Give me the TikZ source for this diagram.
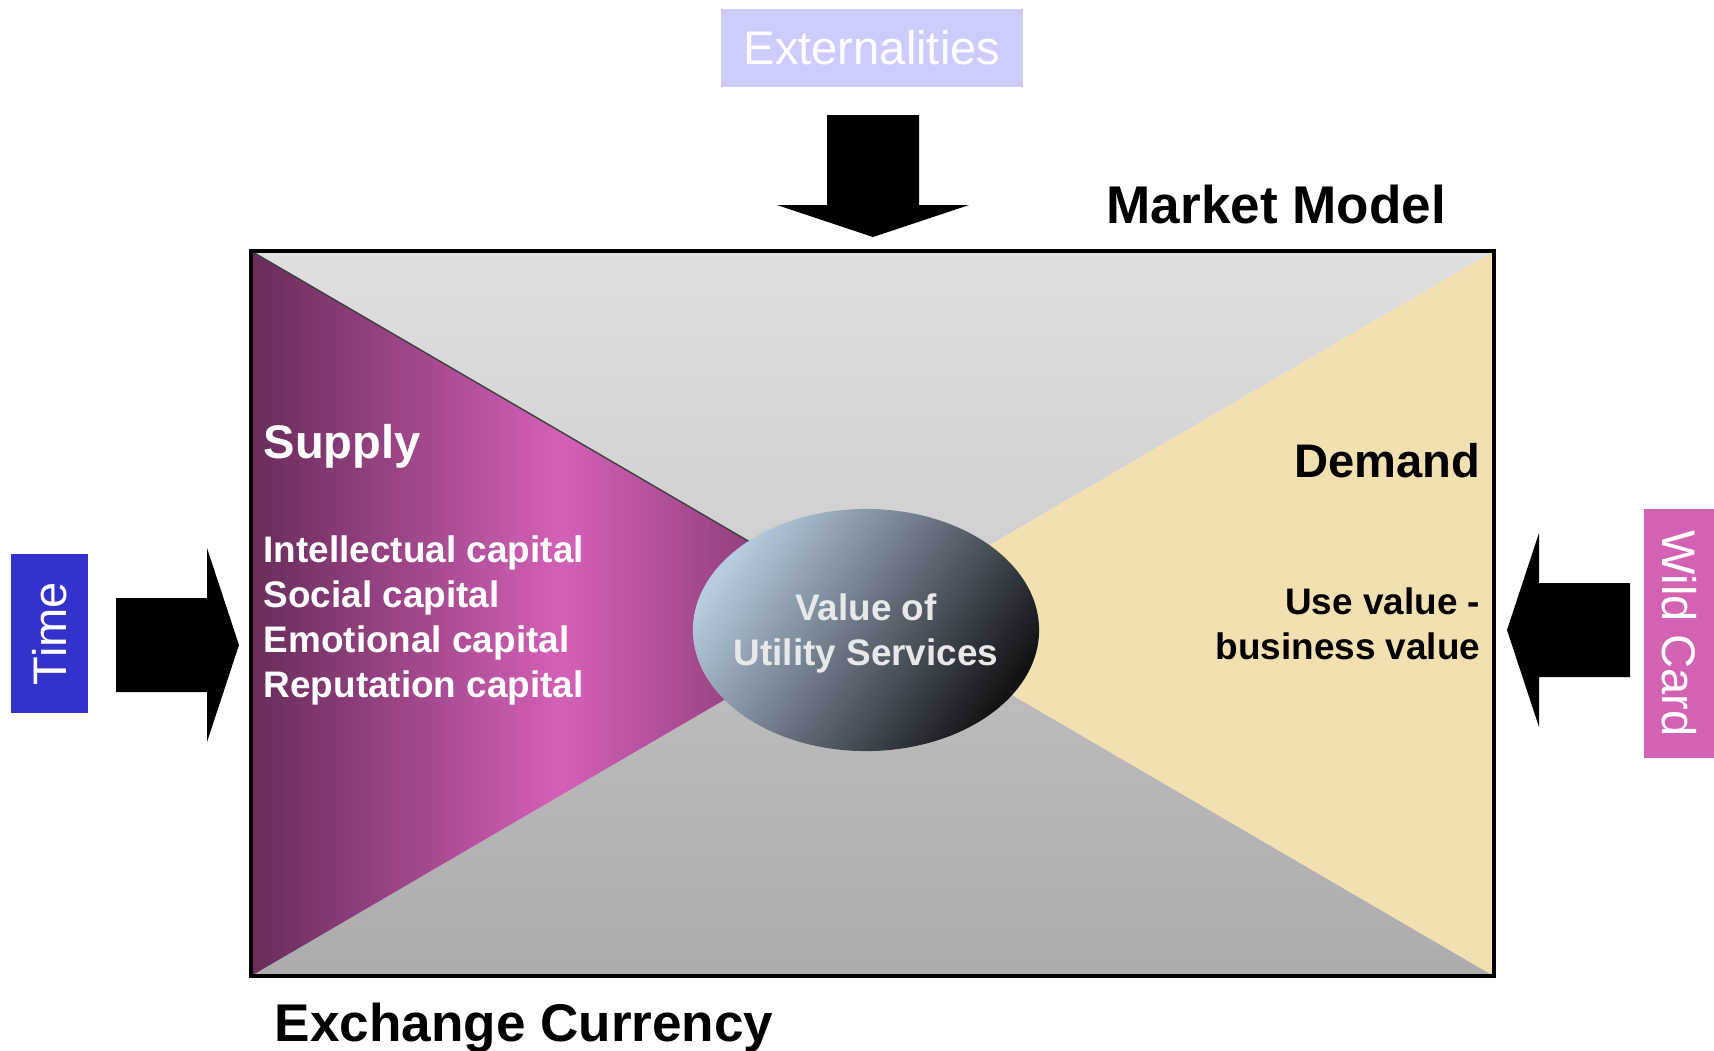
\documentclass[tikz,border=0pt]{standalone}
\usepackage{fontspec}
\setmainfont{Liberation Sans}
\usetikzlibrary{calc,positioning,shapes.geometric}
\definecolor{SupplyClr}{RGB}{104,44,90}
\definecolor{SupplyGlowClr}{RGB}{212,96,184}
\definecolor{DemandClr}{RGB}{242,224,177}
\definecolor{UpperClr}{RGB}{223,223,223}
\definecolor{UpperMidClr}{RGB}{205,205,205}
\definecolor{LowerMidClr}{RGB}{192,192,192}
\definecolor{LowerClr}{RGB}{172,172,172}
\definecolor{ExtClr}{RGB}{204,204,255}
\definecolor{TimeClr}{RGB}{51,51,204}
\definecolor{WildClr}{RGB}{212,98,180}
\definecolor{OrbLightClr}{RGB}{184,204,224}
\definecolor{OrbDarkClr}{RGB}{16,18,22}
\definecolor{OrbTextClr}{RGB}{232,232,232}

\begin{document}
\begin{tikzpicture}[x=0.01cm,y=-0.01cm,
  tag/.style={text=white,inner sep=0pt,font=\fontsize{13.4}{16}\selectfont},
  heading/.style={inner sep=0pt,font=\fontsize{15.1}{18}\selectfont\bfseries},
  side/.style={inner sep=0pt,font=\fontsize{13.4}{16}\selectfont\bfseries},
  item/.style={inner sep=0pt,font=\fontsize{10.5}{12.8}\selectfont\bfseries},
  block/.style={fill=black}]

\useasboundingbox (0,0) rectangle (1714,1050);

\coordinate (nw) at (251,251);
\coordinate (se) at (1494,976);
\coordinate (ne) at (se |- nw);
\coordinate (sw) at (nw |- se);
\coordinate (mid) at ($(nw)!0.5!(se)$);

\shade[top color=UpperClr,bottom color=UpperMidClr] (nw) -- (ne) -- (mid) -- cycle;
\shade[top color=LowerMidClr,bottom color=LowerClr] (sw) -- (se) -- (mid) -- cycle;
\shade[left color=SupplyClr,right color=SupplyClr,middle color=SupplyGlowClr] (nw) -- (mid) -- (sw) -- cycle;
\fill[DemandClr] (ne) -- (mid) -- (se) -- cycle;
\draw[line width=0.4pt,black!75] (nw) -- (mid);
\draw[line width=1.1pt] (nw) rectangle (se);

\node[ellipse,inner sep=0pt,minimum width=3.46cm,minimum height=2.42cm,top color=OrbLightClr,bottom color=OrbDarkClr,shading angle=55] (orb) at (866,630) {};
\node[item,text=OrbTextClr,align=center] (orb text) at ($(orb)+(0,3)$) {Value of\\Utility Services};

\node[side,text=white,anchor=base west] (supply) at (263,458) {Supply};
\node[item,text=white,anchor=north west,align=left] (assets) at (263,535) {Intellectual capital\\Social capital\\Emotional capital\\Reputation capital};
\node[side,anchor=base east] (demand) at (1481,477) {Demand};
\node[item,anchor=north east,align=right] (worth) at (1481,587) {Use value -\\business value};
\node[heading,anchor=base west] (market) at (1106,223) {Market Model};
\node[heading,anchor=base west] (currency) at (274,1041) {Exchange Currency};

\node[tag,fill=ExtClr,minimum width=3.02cm,minimum height=0.77cm] (ext) at (872,48) {Externalities};
\node[tag,fill=TimeClr,rotate=90,minimum width=1.59cm,minimum height=0.77cm] (time) at (49.5,633.5) {Time};
\node[tag,fill=WildClr,rotate=-90,minimum width=2.49cm,minimum height=0.70cm] (wild) at (1679,633.5) {Wild Card};

\coordinate (ext tip) at (873,237);
\coordinate (time tip) at (239,645);
\coordinate (wild tip) at (1507,630);

\fill[block] (ext tip) -- ++(96,-32) -- ++(-50,0) -- ++(0,-90) -- ++(-92,0) -- ++(0,90) -- ++(-50,0) -- cycle;
\fill[block] (time tip) -- ++(-32,-97) -- ++(0,50) -- ++(-91,0) -- ++(0,94) -- ++(91,0) -- ++(0,50) -- cycle;
\fill[block] (wild tip) -- ++(32,-97) -- ++(0,50) -- ++(91,0) -- ++(0,94) -- ++(-91,0) -- ++(0,50) -- cycle;

\end{tikzpicture}
\end{document}
